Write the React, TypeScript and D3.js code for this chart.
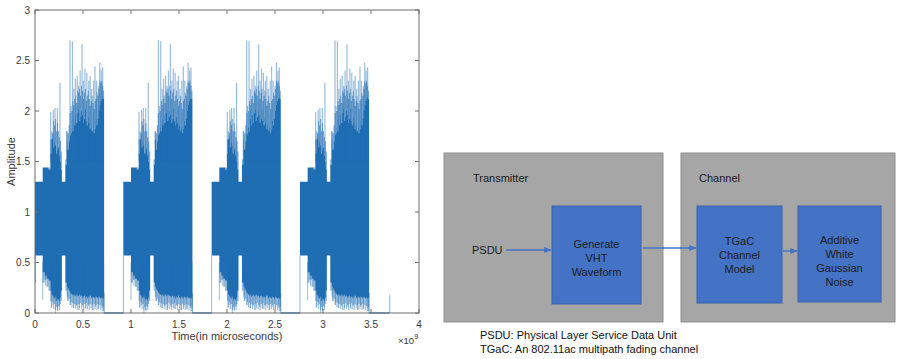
import * as d3 from 'd3';

// time axis is in units of 1e9 microseconds
const burstStarts = [0, 0.92, 1.84, 2.76];
const burstLength = 0.72;
const signalEnd = 3.69;

// one burst: [t, lightLo, coreLo, coreHi, midHi]
const burstEnvelope: number[][] = [
  [0.000, 0.57, 0.57, 1.30, 1.30],
  [0.080, 0.30, 0.40, 1.44, 1.44],
  [0.100, 0.33, 0.37, 1.44, 1.44],
  [0.120, 0.26, 0.34, 1.44, 1.44],
  [0.140, 0.22, 0.32, 1.42, 1.44],
  [0.160, 0.12, 0.22, 1.58, 1.72],
  [0.170, 0.06, 0.18, 1.72, 1.80],
  [0.180, 0.11, 0.17, 1.74, 1.78],
  [0.190, 0.04, 0.15, 1.64, 1.90],
  [0.200, 0.09, 0.14, 1.70, 1.86],
  [0.210, 0.03, 0.16, 1.66, 1.92],
  [0.220, 0.06, 0.12, 1.58, 1.80],
  [0.230, 0.02, 0.14, 1.62, 1.88],
  [0.240, 0.07, 0.13, 1.64, 1.80],
  [0.250, 0.03, 0.12, 1.56, 1.74],
  [0.260, 0.09, 0.15, 1.50, 1.70],
  [0.270, 0.12, 0.22, 1.42, 1.60],
  [0.280, 0.57, 0.57, 1.30, 1.30],
  [0.316, 0.22, 0.30, 1.47, 1.52],
  [0.330, 0.16, 0.26, 1.72, 1.80],
  [0.340, 0.12, 0.24, 1.62, 1.78],
  [0.350, 0.14, 0.22, 1.70, 1.86],
  [0.360, 0.08, 0.20, 1.76, 1.98],
  [0.370, 0.11, 0.19, 1.78, 2.05],
  [0.380, 0.06, 0.18, 1.84, 2.00],
  [0.390, 0.10, 0.17, 1.80, 2.10],
  [0.400, 0.05, 0.18, 1.92, 2.06],
  [0.410, 0.09, 0.16, 1.86, 2.12],
  [0.420, 0.04, 0.17, 1.96, 2.15],
  [0.430, 0.08, 0.18, 1.88, 2.08],
  [0.440, 0.03, 0.16, 1.98, 2.20],
  [0.450, 0.09, 0.17, 2.02, 2.18],
  [0.460, 0.05, 0.18, 1.90, 2.22],
  [0.470, 0.10, 0.16, 1.94, 2.15],
  [0.480, 0.04, 0.17, 2.00, 2.25],
  [0.490, 0.08, 0.15, 1.96, 2.20],
  [0.500, 0.03, 0.16, 1.88, 2.12],
  [0.510, 0.09, 0.17, 1.92, 2.18],
  [0.520, 0.05, 0.15, 2.02, 2.22],
  [0.530, 0.10, 0.16, 1.90, 2.10],
  [0.540, 0.04, 0.14, 1.86, 2.15],
  [0.550, 0.08, 0.16, 1.94, 2.20],
  [0.560, 0.03, 0.15, 1.88, 2.12],
  [0.570, 0.09, 0.17, 1.82, 2.05],
  [0.580, 0.05, 0.15, 1.86, 2.10],
  [0.590, 0.08, 0.14, 1.80, 2.15],
  [0.600, 0.03, 0.16, 1.84, 2.08],
  [0.610, 0.09, 0.15, 1.78, 2.02],
  [0.620, 0.04, 0.14, 1.82, 2.10],
  [0.630, 0.08, 0.16, 1.90, 2.12],
  [0.640, 0.03, 0.15, 1.86, 2.18],
  [0.650, 0.09, 0.14, 1.92, 2.15],
  [0.660, 0.04, 0.16, 2.00, 2.22],
  [0.670, 0.08, 0.15, 2.06, 2.30],
  [0.680, 0.03, 0.14, 2.10, 2.28],
  [0.690, 0.07, 0.15, 2.12, 2.30],
  [0.700, 0.02, 0.14, 2.14, 2.25],
  [0.710, 0.06, 0.15, 2.12, 2.20],
];

// thin light peaks above and below the envelope: [t, amplitude]
const spikesUp: number[][] = [
  [0.163, 1.99], [0.19, 2.01], [0.208, 2.03], [0.233, 2.03], [0.26, 2.28],
  [0.33, 1.80], [0.365, 2.70], [0.39, 2.69], [0.405, 2.22], [0.42, 2.32],
  [0.44, 2.35], [0.455, 2.25], [0.47, 2.40], [0.49, 2.66], [0.505, 2.30],
  [0.52, 2.42], [0.54, 2.38], [0.56, 2.30], [0.575, 2.35], [0.59, 2.22],
  [0.61, 2.30], [0.625, 2.44], [0.64, 2.30], [0.66, 2.25], [0.675, 2.48],
  [0.69, 2.40], [0.705, 2.43],
];
const spikesDown: number[][] = [
  [0.08, 0.13], [0.11, 0.27], [0.17, 0.05], [0.19, 0.08], [0.215, 0.0],
  [0.235, 0.03], [0.255, 0.06], [0.34, 0.12], [0.37, 0.08], [0.40, 0.05],
  [0.43, 0.07], [0.46, 0.03], [0.50, 0.06], [0.53, 0.04], [0.56, 0.07],
  [0.60, 0.03], [0.63, 0.06], [0.66, 0.04], [0.70, 0.05], [0.715, 0.02],
];
// isolated strokes: [t, from, to]
const extraStrokes: number[][] = [
  [0, 0.3, 0.57],
  [3.69, 0, 0.18],
];

const xTicks = [0, 0.5, 1, 1.5, 2, 2.5, 3, 3.5, 4];
const yTicks = [0, 0.5, 1, 1.5, 2, 2.5, 3];

// block diagram content
const groupLabels = ['Transmitter', 'Channel'];
const blockLabels = [
  ['Generate', 'VHT', 'Waveform'],
  ['TGaC', 'Channel', 'Model'],
  ['Additive', 'White', 'Gaussian', 'Noise'],
];
const notes = [
  'PSDU: Physical Layer Service Data Unit',
  'TGaC: An 802.11ac multipath fading channel',
];

const BLUE = '#1f6db3';
const FONT = '"Liberation Sans", Arial, sans-serif';

export default function App() {
  const W = 897;
  const H = 359;
  const plot = { left: 35, right: 419, top: 10, bottom: 313 };

  const x = d3.scaleLinear().domain([0, 4]).range([plot.left, plot.right]);
  const y = d3.scaleLinear().domain([0, 3]).range([plot.bottom, plot.top]);

  const rows = [...burstEnvelope, [burstLength, ...burstEnvelope[burstEnvelope.length - 1].slice(1)]];

  const bandArea = (b: number, lo: number, hi: number) =>
    d3.area<number[]>()
      .x(d => x(b + d[0]))
      .y0(d => y(d[lo]))
      .y1(d => y(d[hi]))
      .curve(d3.curveStepAfter)(rows) || '';

  // zero line between bursts
  const zeroSegments: number[][] = burstStarts.map((b, i) => [
    b + burstLength,
    i < burstStarts.length - 1 ? burstStarts[i + 1] : signalEnd,
  ]);

  const tickLen = 4;
  const axisColor = '#6e6e6e';
  const textColor = '#3a3a3a';

  // diagram geometry
  const groups = [
    { x: 444, y: 153, w: 219, h: 169, lx: 473 },
    { x: 681, y: 153, w: 214, h: 169, lx: 699 },
  ];
  const blocks = [
    { x: 552, y: 206, w: 89, h: 98, ty: 243.7 },
    { x: 697, y: 206, w: 85, h: 97, ty: 240.7 },
    { x: 798, y: 206, w: 83, h: 96, ty: 240 },
  ];
  const arrows = [
    { x1: 506, x2: 551, y: 250 },
    { x1: 643, x2: 696, y: 248 },
    { x1: 783, x2: 797, y: 251 },
  ];

  return (
    <div style={{ position: 'absolute', left: 0, top: 0 }}>
      <svg width={W} height={H} style={{ display: 'block', background: '#fff' }}>
        <defs>
          <marker id="head" viewBox="0 0 10 10" refX="9" refY="5" markerWidth="5" markerHeight="5" orient="auto">
            <path d="M0,1 L10,5 L0,9 z" fill="#4472c4" />
          </marker>
          <clipPath id="plotClip">
            <rect x={plot.left} y={plot.top} width={plot.right - plot.left} height={plot.bottom - plot.top + 1} />
          </clipPath>
        </defs>

        {/* signal */}
        <g clipPath="url(#plotClip)">
          {zeroSegments.map(([a, b], i) => (
            <line key={'z' + i} x1={x(a)} x2={x(b)} y1={y(0)} y2={y(0)} stroke={BLUE} strokeWidth={1.2} />
          ))}
          {burstStarts.map((b, i) => (
            <g key={'b' + i}>
              {i > 0 && <line x1={x(b)} x2={x(b)} y1={y(0)} y2={y(0.57)} stroke={BLUE} strokeOpacity={0.5} />}
              <line x1={x(b + burstLength)} x2={x(b + burstLength)} y1={y(0)} y2={y(0.2)} stroke={BLUE} strokeOpacity={0.6} />
              <path d={bandArea(b, 1, 2)} fill={BLUE} opacity={0.5} />
              <path d={bandArea(b, 3, 4)} fill={BLUE} opacity={0.6} />
              <path d={bandArea(b, 2, 3)} fill={BLUE} />
              {spikesUp.map((s, j) => (
                <line key={'u' + j} x1={x(b + s[0])} x2={x(b + s[0])} y1={y(1.5)} y2={y(s[1])} stroke={BLUE} strokeOpacity={0.45} strokeWidth={1.2} />
              ))}
              {spikesDown.map((s, j) => (
                <line key={'d' + j} x1={x(b + s[0])} x2={x(b + s[0])} y1={y(0.5)} y2={y(s[1])} stroke={BLUE} strokeOpacity={0.45} strokeWidth={1} />
              ))}
            </g>
          ))}
          {extraStrokes.map((s, i) => (
            <line key={'e' + i} x1={x(s[0]) + 0.5} x2={x(s[0]) + 0.5} y1={y(s[1])} y2={y(s[2])} stroke={BLUE} strokeOpacity={0.5} />
          ))}
        </g>

        {/* axes box */}
        <rect x={plot.left} y={plot.top} width={plot.right - plot.left} height={plot.bottom - plot.top} fill="none" stroke={axisColor} strokeWidth={1} />
        {xTicks.map(t => (
          <g key={'xt' + t}>
            <line x1={x(t)} x2={x(t)} y1={plot.bottom} y2={plot.bottom - tickLen} stroke={axisColor} />
            <line x1={x(t)} x2={x(t)} y1={plot.top} y2={plot.top + tickLen} stroke={axisColor} />
            <text x={x(t)} y={plot.bottom + 15} textAnchor="middle" fontSize={10} fontFamily={FONT} fill={textColor}>{t}</text>
          </g>
        ))}
        {yTicks.map(t => (
          <g key={'yt' + t}>
            <line x1={plot.left} x2={plot.left + tickLen} y1={y(t)} y2={y(t)} stroke={axisColor} />
            <line x1={plot.right} x2={plot.right - tickLen} y1={y(t)} y2={y(t)} stroke={axisColor} />
            <text x={plot.left - 5} y={y(t)} dy="0.35em" textAnchor="end" fontSize={10} fontFamily={FONT} fill={textColor}>{t}</text>
          </g>
        ))}
        <text x={(plot.left + plot.right) / 2} y={340} textAnchor="middle" fontSize={11} fontFamily={FONT} fill={textColor}>Time(in microseconds)</text>
        <text transform={`translate(15,${(plot.top + plot.bottom) / 2}) rotate(-90)`} textAnchor="middle" fontSize={11} fontFamily={FONT} fill={textColor}>Amplitude</text>
        <text x={398} y={344} fontSize={9.5} fontFamily={FONT} fill={textColor}>
          ×10<tspan dy={-5} fontSize={7}>9</tspan>
        </text>

        {/* block diagram */}
        {groups.map((g, i) => (
          <g key={'g' + i}>
            <rect x={g.x} y={g.y} width={g.w} height={g.h} fill="#a6a6a6" stroke="#8f8f8f" strokeWidth={1} />
            <text x={g.lx} y={178} dy="0.35em" fontSize={11} fontFamily={FONT} fill="#1a1a1a">{groupLabels[i]}</text>
          </g>
        ))}
        {blocks.map((b, i) => (
          <g key={'bl' + i}>
            <rect x={b.x} y={b.y} width={b.w} height={b.h} fill="#4472c4" stroke="#3a62ab" strokeWidth={1} />
            {blockLabels[i].map((l, j) => (
              <text key={j} x={b.x + b.w / 2} y={b.ty + j * 14.2} dy="0.35em" textAnchor="middle" fontSize={11} fontFamily={FONT} fill="#1c1c1c">{l}</text>
            ))}
          </g>
        ))}
        <text x={472} y={250} dy="0.35em" fontSize={11} fontFamily={FONT} fill="#1a1a1a">PSDU</text>
        {arrows.map((a, i) => (
          <line key={'a' + i} x1={a.x1} x2={a.x2} y1={a.y} y2={a.y} stroke="#4472c4" strokeWidth={1.5} markerEnd="url(#head)" />
        ))}
        {notes.map((n, i) => (
          <text key={'n' + i} x={480} y={335 + i * 14} dy="0.35em" fontSize={11} fontFamily={FONT} fill="#111">{n}</text>
        ))}
      </svg>
    </div>
  );
}
